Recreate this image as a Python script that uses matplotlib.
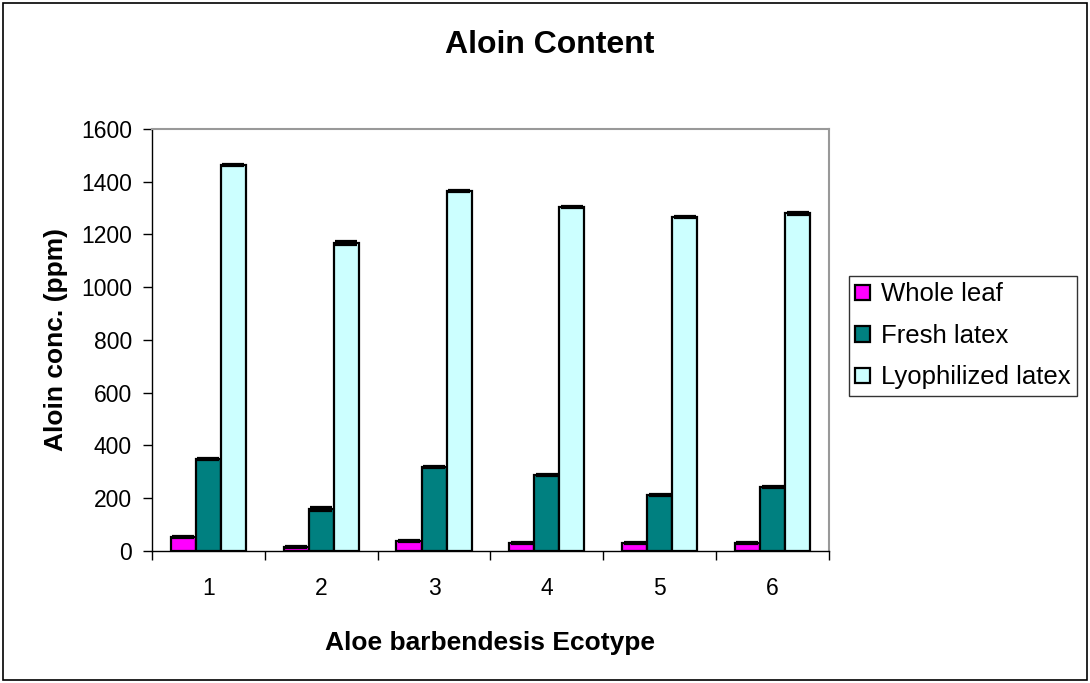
import matplotlib.pyplot as plt
from matplotlib.patches import Rectangle
import numpy as np

plt.rcParams["font.family"] = ["Liberation Sans", "DejaVu Sans"]

ecotypes = ["1", "2", "3", "4", "5", "6"]
series = ["Whole leaf", "Fresh latex", "Lyophilized latex"]
whole_leaf = [53, 15, 38, 30, 30, 30]
fresh_latex = [349, 159, 318, 288, 212, 243]
lyophilized_latex = [1463, 1168, 1365, 1304, 1266, 1281]
whole_leaf_err = [4, 4, 3, 3, 3, 3]
fresh_latex_err = [4, 8, 4, 5, 3, 3]
lyophilized_latex_err = [4, 8, 4, 4, 4, 6]
yticks = [0, 200, 400, 600, 800, 1000, 1200, 1400, 1600]

colors = ["#FF00FF", "#008080", "#CCFFFF"]

fig = plt.figure(figsize=(10.9, 6.83), dpi=100)
# outer chart border
fig.patches.append(
    Rectangle((0.003, 0.004), 0.994, 0.992, transform=fig.transFigure,
              fill=False, edgecolor="black", linewidth=1.2)
)

ax = fig.add_axes([0.1394, 0.1933, 0.6211, 0.6179])
x = np.arange(len(ecotypes))
width = 0.222
values = [whole_leaf, fresh_latex, lyophilized_latex]
errors = [whole_leaf_err, fresh_latex_err, lyophilized_latex_err]
for i, (vals, errs, col, name) in enumerate(zip(values, errors, colors, series)):
    ax.bar(x + (i - 1) * width, vals, width, color=col, edgecolor="black",
           linewidth=1.6, label=name, zorder=2)
    ax.errorbar(x + (i - 1) * width, vals, yerr=errs, fmt="none",
                ecolor="black", elinewidth=1, capsize=8, capthick=1.6,
                zorder=3)

ax.set_xlim(-0.5, len(ecotypes) - 0.5)
ax.set_ylim(0, 1600)
ax.set_yticks(yticks)
ax.set_yticklabels([str(v) for v in yticks], fontsize=16.5)
ax.set_xticks(x)
ax.set_xticklabels(ecotypes, fontsize=16.5)
ax.set_xticks(np.arange(-0.5, len(ecotypes)), minor=True)
ax.tick_params(axis="x", which="major", length=0, pad=19)
ax.tick_params(axis="x", which="minor", length=6.5, width=1, direction="out")
ax.tick_params(axis="y", length=6.5, width=1, direction="out", pad=8)

for side in ["top", "right"]:
    ax.spines[side].set_color("#999999")
    ax.spines[side].set_linewidth(1.5)
for side in ["left", "bottom"]:
    ax.spines[side].set_color("black")
    ax.spines[side].set_linewidth(1)

ax.set_xlabel("Aloe barbendesis Ecotype", fontsize=19, fontweight="bold", labelpad=22)
ax.set_ylabel("Aloin conc. (ppm)", fontsize=19, fontweight="bold", labelpad=9)
fig.text(0.504, 0.934, "Aloin Content", fontsize=23, fontweight="bold",
         ha="center", va="center")

leg = ax.legend(loc="upper left", bbox_to_anchor=(849 / 1090, 1 - 276 / 683),
                bbox_transform=fig.transFigure, borderaxespad=0, fontsize=18.5,
                frameon=True, fancybox=False, edgecolor="black",
                handlelength=0.55, handleheight=0.55, handletextpad=0.45,
                labelspacing=0.68, borderpad=0.25)
leg.get_frame().set_linewidth(1)

plt.savefig("out.png", dpi=100)
